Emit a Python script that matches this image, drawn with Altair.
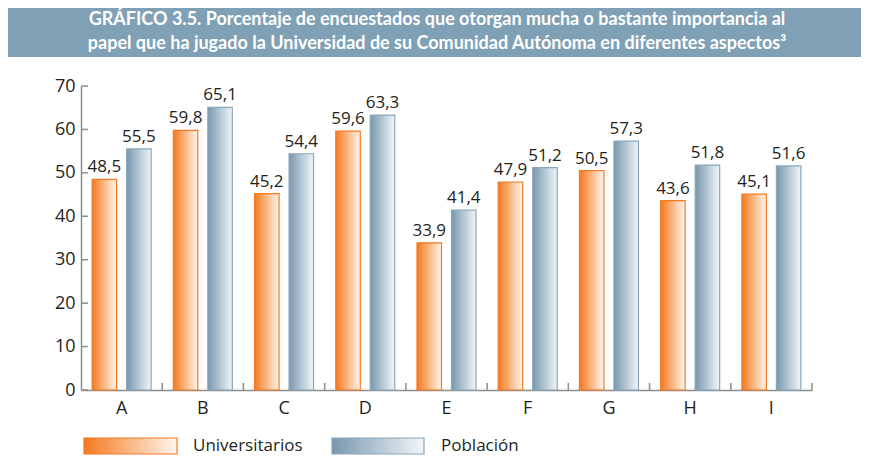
import altair as alt
import pandas as pd

# ---- data ----
categories = ["A", "B", "C", "D", "E", "F", "G", "H", "I"]
universitarios = [48.5, 59.8, 45.2, 59.6, 33.9, 47.9, 50.5, 43.6, 45.1]
poblacion = [55.5, 65.1, 54.4, 63.3, 41.4, 51.2, 57.3, 51.8, 51.6]
series = ["Universitarios", "Población"]
y_ticks = [0, 10, 20, 30, 40, 50, 60, 70]
title_lines = [
    "GRÁFICO 3.5. Porcentaje de encuestados que otorgan mucha o bastante importancia al",
    "papel que ha jugado la Universidad de su Comunidad Autónoma en diferentes aspectos³",
]

rows = []
for c, u, p in zip(categories, universitarios, poblacion):
    rows.append({"cat": c, "serie": series[0], "value": u, "label": f"{u:.1f}".replace(".", ",")})
    rows.append({"cat": c, "serie": series[1], "value": p, "label": f"{p:.1f}".replace(".", ",")})
df = pd.DataFrame(rows)
cat_df = pd.DataFrame({"cat": categories})
tick_df = pd.DataFrame({"value": y_ticks})
one = pd.DataFrame({"k": [0]})

W, H = 731, 304
TEXT = "#231f20"
AXIS = "#8c8c8c"
BANNER = "#7fa0b5"
FONT = "Open Sans"
TFONT = "Lato"

orange_grad = alt.Gradient(
    gradient="linear", x1=0, x2=1, y1=0, y2=0,
    stops=[alt.GradientStop(color="#f47920", offset=0),
           alt.GradientStop(color="#f9b27a", offset=0.45),
           alt.GradientStop(color="#fff6ef", offset=1)])
blue_grad = alt.Gradient(
    gradient="linear", x1=0, x2=1, y1=0, y2=0,
    stops=[alt.GradientStop(color="#7898ae", offset=0),
           alt.GradientStop(color="#b4c7d4", offset=0.5),
           alt.GradientStop(color="#f1f5f8", offset=1)])

xscale = alt.Scale(domain=categories, paddingInner=0, paddingOuter=0)
offscale = alt.Scale(domain=series, paddingInner=0.29, paddingOuter=0.3225)
yscale = alt.Scale(domain=[0, 70], nice=False)

xaxis = alt.Axis(title=None, labelAngle=0, ticks=False, labelFontSize=18,
                 labelFont=FONT, labelColor=TEXT, labelPadding=9,
                 domainColor=AXIS, domainWidth=1.5)
yaxis = alt.Axis(title=None, values=y_ticks, ticks=False, grid=False,
                 labelFontSize=18, labelFont=FONT, labelColor=TEXT,
                 labelPadding=6, domainColor=AXIS, domainWidth=1.5)

x_enc = alt.X("cat:N", scale=xscale, sort=categories, axis=xaxis)
y_enc = alt.Y("value:Q", scale=yscale, axis=yaxis)
off_enc = alt.XOffset("serie:N", scale=offscale, sort=series)

base = alt.Chart(df)

bars_u = base.transform_filter(alt.datum.serie == series[0]).mark_bar(
    fill=orange_grad, stroke="#f47920", strokeWidth=1.2
).encode(x=x_enc, xOffset=off_enc, y=y_enc)

bars_p = base.transform_filter(alt.datum.serie == series[1]).mark_bar(
    fill=blue_grad, stroke="#8aa6b9", strokeWidth=1.2
).encode(x=x_enc, xOffset=off_enc, y=y_enc)

labels = base.mark_text(font=FONT, fontSize=17, color=TEXT, baseline="alphabetic", dy=-7).encode(
    x=x_enc, xOffset=off_enc, y=y_enc, text="label:N")

x_ticks = alt.Chart(cat_df).mark_rule(color=AXIS, strokeWidth=1.5).encode(
    x=alt.X("cat:N", scale=xscale, sort=categories, bandPosition=1, axis=xaxis),
    y=alt.value(H - 7), y2=alt.value(H))

y_tick_marks = alt.Chart(tick_df).mark_rule(color=AXIS, strokeWidth=1.5).encode(
    y=alt.Y("value:Q", scale=yscale, axis=yaxis),
    x=alt.value(0), x2=alt.value(7))

banner = alt.Chart(one).mark_rect(color=BANNER).encode(
    x=alt.value(-73), x2=alt.value(W + 49), y=alt.value(-78), y2=alt.value(-29))

title = alt.Chart(one).mark_text(
    text=title_lines, lineHeight=24, font=TFONT, fontSize=18, fontWeight="bold",
    color="white", align="center", baseline="middle"
).encode(x=alt.value(356), y=alt.value(-66))

leg_u = alt.Chart(one).mark_rect(fill=orange_grad, stroke="#f47920", strokeWidth=1.2).encode(
    x=alt.value(3), x2=alt.value(96), y=alt.value(352), y2=alt.value(368))
leg_p = alt.Chart(one).mark_rect(fill=blue_grad, stroke="#8aa6b9", strokeWidth=1.2).encode(
    x=alt.value(251), x2=alt.value(343), y=alt.value(352), y2=alt.value(368))
leg_tu = alt.Chart(one).mark_text(text=series[0], font=FONT, fontSize=17, color=TEXT,
                                  align="left", baseline="middle").encode(
    x=alt.value(112), y=alt.value(360))
leg_tp = alt.Chart(one).mark_text(text=series[1], font=FONT, fontSize=17, color=TEXT,
                                  align="left", baseline="middle").encode(
    x=alt.value(360), y=alt.value(360))

chart = alt.layer(
    bars_u, bars_p, labels, x_ticks, y_tick_marks, banner, title,
    leg_u, leg_p, leg_tu, leg_tp
).properties(
    width=W, height=H,
    padding={"left": 73, "top": 78, "right": 49, "bottom": 74},
    autosize=alt.AutoSizeParams(type="none"),
    background="white",
).configure_view(stroke=None)

chart.save("out.html", embed_options={"renderer": "svg", "actions": False})
